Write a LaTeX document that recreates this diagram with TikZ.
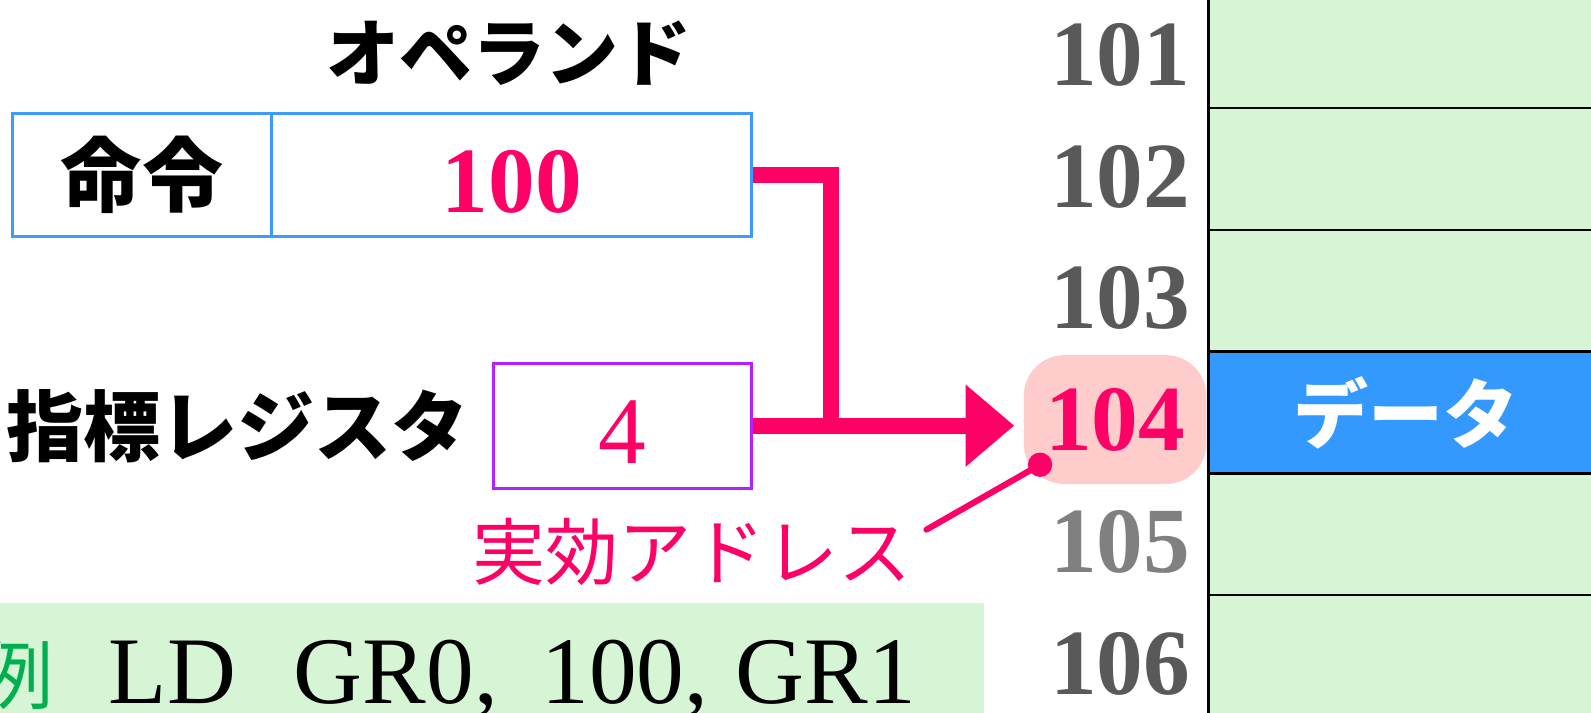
\documentclass[tikz,border=0pt]{standalone}
\usepackage{fontspec}
\setmainfont{Liberation Serif}
\newfontfamily\cjk{Noto Sans CJK JP}
\usetikzlibrary{arrows.meta}
\definecolor{mag}{HTML}{FF0066}
\definecolor{boxblue}{HTML}{3D9BFF}
\definecolor{datablue}{HTML}{3399FF}
\definecolor{regpurple}{HTML}{B620FF}
\definecolor{memgreen}{HTML}{D5F5D5}
\definecolor{addrpink}{HTML}{FFCCCC}
\definecolor{addrgray}{HTML}{595959}
\definecolor{addrlight}{HTML}{808080}
\definecolor{exgreen}{HTML}{00B050}
\begin{document}
\begin{tikzpicture}[x=0.5pt,y=-0.5pt,
  cell/.style={draw, line width=1.5pt, inner sep=0pt, minimum height=60.5pt},
  num/.style={font=\bfseries\fontsize{46}{46}\selectfont, text=mag, text height=37pt, text depth=0pt},
  jpbold/.style={font=\cjk\bfseries\fontsize{#1}{#1}\selectfont, inner sep=0pt},
  jp/.style={font=\cjk\fontsize{#1}{#1}\selectfont, inner sep=0pt},
  memrow/.style={draw=black, line width=1.3pt, fill=memgreen, minimum width=204.5pt, minimum height=60pt, inner sep=0pt},
  addr/.style={font=\bfseries\fontsize{46}{46}\selectfont, text=addrgray, inner sep=0pt},
  conn/.style={draw=mag, line width=8pt},
]
\useasboundingbox (0,0) rectangle (1568,702);
\clip (0,0) rectangle (1568,702);

% memory column
\node[memrow] (m101) at (1395.5,46.5) {};
\node[memrow] (m102) at (1395.5,166.5) {};
\node[memrow] (m103) at (1395.5,286.5) {};
\node[memrow] (m105) at (1395.5,526.5) {};
\node[memrow] (m106) at (1395.5,646.5) {};
\node[memrow, fill=datablue, text=white, font=\cjk\bfseries\fontsize{37}{37}\selectfont, text height=30pt, text depth=0pt] (m104) at (1395.5,406.5) {\hspace*{-10pt}データ};

% addresses
\node[addr] (a101) at (1104,54) {101};
\node[addr] (a102) at (1104,174) {102};
\node[addr] (a103) at (1104,294) {103};
\node[fill=addrpink, rounded corners=20pt, minimum width=90pt, minimum height=63.5pt, inner sep=0pt, font=\bfseries\fontsize{46}{46}\selectfont, text=mag] (a104) at (1099,413.5) {104};
\node[addr, text=addrlight] (a105) at (1104,534) {105};
\node[addr] (a106) at (1104,654) {106};

% instruction
\node[jpbold=36] (opw) at (502,52) {オペランド};
\node[cell, draw=boxblue, minimum width=128pt, jpbold=40] (inst) at (140,172.5) {命令};
\node[cell, draw=boxblue, minimum width=236.5pt, num] (opnd) at (504.5,172.5) {100};

% index register
\node[jpbold=38] (reglbl) at (234,420) {指標レジスタ};
\node[cell, draw=regpurple, minimum width=127.5pt, minimum height=61.5pt, num, font=\mdseries\fontsize{47}{47}\selectfont] (reg) at (613.5,419.5) {4};

% arrows
\coordinate (join) at (819,420);
\draw[conn] (opnd.east) -| (join);
\draw[conn, -{Triangle[length=24pt,width=39pt]}, shorten >=4.5pt] (reg.east) -- (reg.east -| a104.west);

% effective address label
\node[circle, fill=mag, minimum size=12pt, inner sep=0pt] (dot) at (1025,458) {};
\coordinate (lblend) at (913,522);
\draw[mag, line width=3pt, line cap=round] (dot.center) -- (lblend);
\node[jp=36, text=mag] (ea) at (682,544) {実効アドレス};

% example
\node[fill=memgreen, minimum width=485pt, minimum height=56pt, inner sep=0pt] (exbar) at (485,650) {};
\node[anchor=base west, inner sep=0pt, font=\fontsize{47}{47}\selectfont] (ex) at (107,693)
  {\llap{{\cjk\fontsize{37}{37}\selectfont\color{exgreen}例}\hspace{27.5pt}}LD\hspace{28.5pt}GR0,\hspace{21.5pt}100,\hspace{13.5pt}GR1};
\end{tikzpicture}
\end{document}
